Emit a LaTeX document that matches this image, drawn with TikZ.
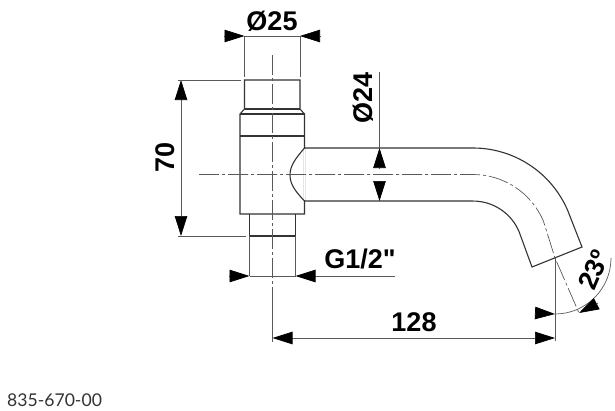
\documentclass[tikz,border=0pt]{standalone}
\usepackage{fontspec}
\newfontfamily\dimfont{Liberation Sans}
\newfontfamily\codefont{Lato}
\usetikzlibrary{arrows.meta}
\tikzset{
  outline/.style={line width=1.1pt,draw=black!80},
  thinline/.style={line width=.7pt,draw=black!65},
  centerline/.style={line width=.7pt,draw=black!65,dash pattern=on 20pt off 3pt on 3pt off 3pt},
  dimtip/.style={thinline,-{Triangle[length=20pt,width=12.5pt,black]},shorten >=0pt},
  dimlabel/.style={font=\dimfont\bfseries\fontsize{27}{27}\selectfont,inner sep=0pt,black}
}
\begin{document}
\begin{tikzpicture}[x=1pt,y=-1pt]
\useasboundingbox (0,0) rectangle (615,410);

% valve body
\draw[outline] (244.5,80) -- (300,80) -- (300,109) -- (304.5,114) -- (304.5,214)
  -- (240,214) -- (240,114) -- (244.5,109) -- cycle;
\draw[outline] (244.5,109) -- (300,109);
\draw[outline] (240,114) -- (304.5,114);
\draw[outline] (240,136) -- (304.5,136);
\draw[outline] (249.5,214) -- (249.5,236) -- (295.5,236) -- (295.5,214);

% spout
\draw[outline] (304.5,148) -- (473,148) arc[start angle=-90,end angle=-23,radius=103]
  coordinate (outerend) -- (582,247) coordinate (capA) -- (532,267) coordinate (capB)
  -- (519,231.5) arc[start angle=-23,end angle=-90,radius=50] -- (304.5,201);
\draw[outline,white,line width=1.6pt] (304.5,148.6) -- (304.5,200.4);
\draw[outline] (304.5,148) .. controls (295,159) and (290,166) .. (290,175)
  .. controls (290,184) and (295,191) .. (304.5,201);

% center lines
\draw[centerline] (199,174.5) -- (473,174.5) arc[start angle=-90,end angle=-23,radius=76.5]
  -- (555,258) coordinate (tipC) -- (579,313) coordinate (angleB);
\draw[centerline] (272.5,55) -- (272.5,300);
\draw[thinline] (272.5,300) coordinate (leftfoot) -- (272.5,342);

% dia 25
\coordinate (d25L) at (244.5,36);
\coordinate (d25R) at (300,36);
\draw[thinline] (d25L) -- (d25R);
\draw[thinline] (d25L) -- (244.5,77);
\draw[thinline] (d25R) -- (300,77);
\draw[dimtip] (224,36) -- (d25L);
\draw[dimtip] (320.5,36) -- (d25R);
\node[dimlabel] (lab25) at (272,21) {Ø25};

% height 70
\coordinate (h70T) at (181,80);
\coordinate (h70B) at (181,236);
\draw[dimtip] (181,120) -- (h70T);
\draw[dimtip] (181,200) -- (h70B);
\draw[thinline] (181,120) -- (181,200);
\draw[thinline] (178,80) -- (241,80);
\draw[thinline] (178,236) -- (246,236);
\node[dimlabel,rotate=90] (lab70) at (165,157) {70};

% dia 24
\coordinate (d24T) at (379.5,148);
\coordinate (d24B) at (379.5,201);
\draw[thinline] (379.5,72) -- (d24T);
\draw[dimtip] (379.5,168.5) -- (d24T);
\draw[dimtip] (379.5,180.5) -- (d24B);
\node[dimlabel,rotate=90] (lab24) at (363.5,98) {Ø24};

% thread
\coordinate (gL) at (249.5,276);
\coordinate (gR) at (295.5,276);
\draw[thinline] (249.5,236) -- (gL);
\draw[thinline] (295.5,236) -- (gR);
\draw[thinline] (gL) -- (gR);
\draw[dimtip] (229,276) -- (gL);
\draw[dimtip] (395,276) -- (gR);
\node[dimlabel] (labG) at (360,259) {G1/2"};

% length 128
\coordinate (lenL) at (272.5,338);
\coordinate (lenR) at (555,338);
\draw[dimtip] (400,338) -- (lenL);
\draw[dimtip] (400,338) -- (lenR);
\draw[thinline] (tipC) -- (555,341);
\node[dimlabel] (lab128) at (414,322) {128};

% angle 23
\coordinate (angleA) at (555,314);
\draw[thinline] (angleA) arc[start angle=90,end angle=0,radius=56] coordinate (arcend);
\draw[dimtip] (535,313) -- (angleA);
\draw[dimtip] (598,303) -- (angleB);
\node[dimlabel,rotate=67] (lab23) at (594,270) {23º};

\node[anchor=west,inner sep=0pt,font=\codefont\fontsize{17.6}{17.6}\selectfont,black!80] (code) at (7,400.5) {835-670-00};
\end{tikzpicture}
\end{document}
